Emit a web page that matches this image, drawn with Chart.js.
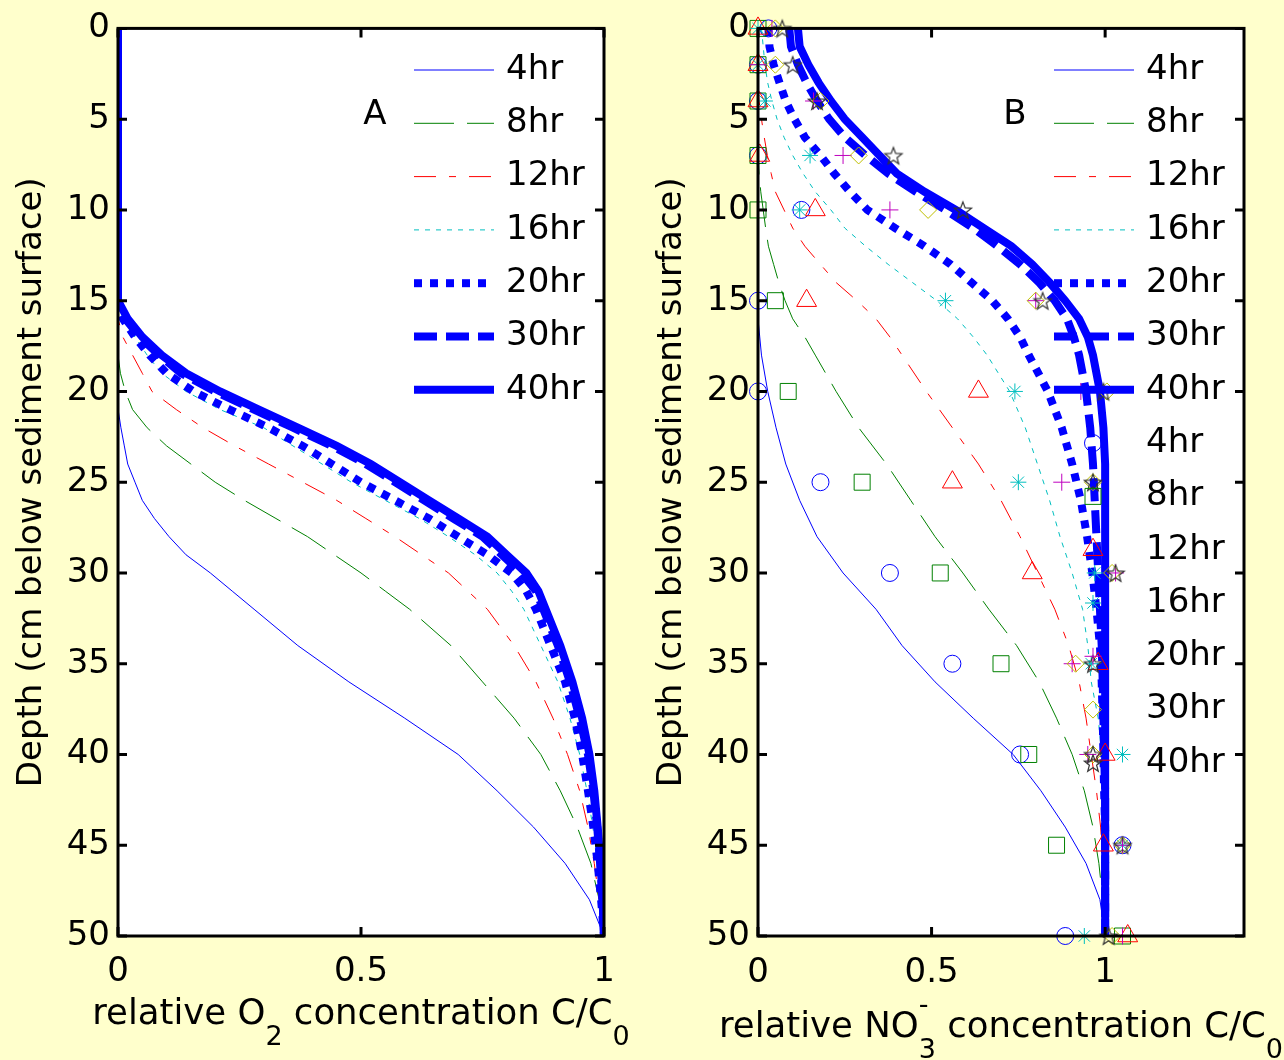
<!DOCTYPE html>
<html lang="en">
<head>
<meta charset="utf-8">
<title>O2 and NO3- depth profiles</title>
<script src="https://cdn.jsdelivr.net/npm/chart.js@4.4.1/dist/chart.umd.min.js"></script>
<style>
  html, body { margin: 0; padding: 0; background: #ffffcc; }
  #panelA, #panelB { position: absolute; top: 0; }
  #panelA { left: 0; }
  #panelB { left: 640px; }
</style>
</head>
<body>
<canvas id="panelA" width="640" height="1060"></canvas>
<canvas id="panelB" width="644" height="1060"></canvas>
<script>
'use strict';

// ---- data ----
const hours = ['4hr', '8hr', '12hr', '16hr', '20hr', '30hr', '40hr'];
const depthTicks = [0, 5, 10, 15, 20, 25, 30, 35, 40, 45, 50];
const concTicks = [0, 0.5, 1];

// A: modelled O2, C/C0 at each depth (cm)
const depthA = [0, 15, 16, 17, 18, 19, 20, 21, 22, 23, 24, 25, 26, 27, 28, 29, 30, 31, 32, 34, 36, 38, 40, 42, 44, 46, 48, 50];
const o2At4hr  = [0, 0, 0, 0, 0, 0, 0, 0.002, 0.006, 0.013, 0.02, 0.035, 0.05, 0.075, 0.105, 0.14, 0.19, 0.235, 0.28, 0.37, 0.475, 0.59, 0.70, 0.78, 0.855, 0.92, 0.97, 1];
const o2At8hr  = [0, 0, 0, 0, 0, 0.005, 0.015, 0.03, 0.06, 0.10, 0.15, 0.20, 0.26, 0.325, 0.39, 0.445, 0.50, 0.55, 0.60, 0.685, 0.75, 0.815, 0.87, 0.91, 0.945, 0.973, 0.99, 1];
const o2At12hr = [0, 0, 0, 0.01, 0.03, 0.05, 0.07, 0.12, 0.175, 0.24, 0.31, 0.38, 0.45, 0.51, 0.57, 0.625, 0.68, 0.72, 0.76, 0.815, 0.86, 0.895, 0.925, 0.95, 0.967, 0.98, 0.99, 1];
const o2At16hr = [0, 0, 0.01, 0.035, 0.06, 0.09, 0.14, 0.21, 0.30, 0.36, 0.42, 0.48, 0.55, 0.62, 0.68, 0.735, 0.78, 0.81, 0.835, 0.87, 0.905, 0.93, 0.95, 0.965, 0.977, 0.987, 0.994, 1];
const o2At20hr = [0, 0, 0.01, 0.035, 0.065, 0.10, 0.155, 0.23, 0.31, 0.38, 0.44, 0.50, 0.57, 0.64, 0.70, 0.76, 0.81, 0.84, 0.86, 0.89, 0.92, 0.94, 0.955, 0.967, 0.978, 0.987, 0.994, 1];
const o2At30hr = [0, 0, 0.015, 0.045, 0.085, 0.13, 0.20, 0.28, 0.36, 0.44, 0.51, 0.57, 0.63, 0.69, 0.75, 0.79, 0.83, 0.86, 0.875, 0.905, 0.93, 0.95, 0.967, 0.978, 0.986, 0.992, 0.997, 1];
const o2At40hr = [0, 0, 0.02, 0.05, 0.09, 0.14, 0.21, 0.29, 0.37, 0.45, 0.52, 0.58, 0.64, 0.70, 0.76, 0.80, 0.84, 0.865, 0.88, 0.91, 0.935, 0.955, 0.97, 0.98, 0.987, 0.993, 0.997, 1];

// B: modelled NO3-, C/C0 at each depth (cm)
const depthB = [0, 1, 2, 3, 4, 5, 6, 7, 8, 9, 10, 11, 12, 13, 14, 15, 16, 17, 18, 20, 22, 24, 26, 28, 30, 32, 34, 36, 38, 40, 42, 44, 46, 48, 50];
const no3At4hr  = [0, 0, 0, 0, 0, 0, 0, 0, 0, 0, 0, 0, 0, 0, 0, 0, 0, 0.005, 0.01, 0.028, 0.052, 0.08, 0.12, 0.17, 0.245, 0.34, 0.415, 0.51, 0.62, 0.735, 0.815, 0.885, 0.945, 0.985, 1];
const no3At8hr  = [0, 0, 0, 0, 0, 0, 0, 0, 0.003, 0.008, 0.015, 0.022, 0.03, 0.045, 0.06, 0.078, 0.1, 0.135, 0.165, 0.225, 0.29, 0.37, 0.44, 0.51, 0.59, 0.665, 0.745, 0.81, 0.86, 0.905, 0.94, 0.965, 0.982, 0.993, 1];
const no3At12hr = [0, 0, 0, 0, 0.003, 0.01, 0.018, 0.027, 0.038, 0.05, 0.075, 0.10, 0.135, 0.18, 0.225, 0.285, 0.34, 0.38, 0.415, 0.485, 0.56, 0.635, 0.70, 0.755, 0.805, 0.855, 0.895, 0.925, 0.945, 0.96, 0.975, 0.987, 0.994, 0.998, 1];
const no3At16hr = [0.01, 0.015, 0.02, 0.028, 0.04, 0.055, 0.075, 0.10, 0.13, 0.165, 0.21, 0.25, 0.31, 0.375, 0.445, 0.515, 0.575, 0.62, 0.66, 0.725, 0.77, 0.805, 0.84, 0.87, 0.905, 0.935, 0.95, 0.96, 0.98, 0.99, 0.995, 1, 1, 1, 1];
const no3At20hr = [0.03, 0.033, 0.045, 0.062, 0.08, 0.105, 0.135, 0.18, 0.22, 0.265, 0.315, 0.395, 0.48, 0.555, 0.615, 0.675, 0.72, 0.755, 0.78, 0.835, 0.875, 0.905, 0.93, 0.948, 0.963, 0.975, 0.985, 0.99, 0.993, 0.995, 0.997, 1, 1, 1, 1];
const no3At30hr = [0.09, 0.095, 0.115, 0.14, 0.17, 0.205, 0.25, 0.31, 0.375, 0.455, 0.54, 0.62, 0.69, 0.755, 0.81, 0.855, 0.89, 0.91, 0.925, 0.945, 0.957, 0.965, 0.97, 0.975, 0.98, 0.985, 0.99, 0.993, 0.995, 0.997, 1, 1, 1, 1, 1];
const no3At40hr = [0.115, 0.12, 0.145, 0.175, 0.21, 0.25, 0.30, 0.35, 0.40, 0.48, 0.57, 0.65, 0.73, 0.79, 0.84, 0.885, 0.925, 0.95, 0.965, 0.985, 0.995, 1, 1, 1, 1, 1, 1, 1, 1, 1, 1, 1, 1, 1, 1];

// B: measured NO3- at the sampling ports
const sampleDepth = [0, 2, 4, 7, 10, 15, 20, 25, 30, 35, 40, 45, 50];
const obsAt4hr  = [0.03, 0, 0, 0, 0.125, 0, 0, 0.18, 0.38, 0.56, 0.755, 1.05, 0.885];
const obsAt8hr  = [0, 0, 0, 0, 0, 0.05, 0.087, 0.30, 0.525, 0.70, 0.78, 0.86, 1.05];
const obsAt12hr = [0, 0, 0, 0.005, 0.165, 0.14, 0.635, 0.56, 0.79, 0.98, 1.0, 0.995, 1.065];
const obsAt16hr = [0, 0, 0.02, 0.15, 0.12, 0.54, 0.74, 0.75, 0.97, 0.96, 1.05, 1.05, 0.94];
const obsAt20hr = [0.04, 0, 0.16, 0.245, 0.38, 0.80, 0.93, 0.875, 1.03, 0.905, 0.95, 1.05, 1.05];
const obsAt30hr = [0.05, 0.05, 0.18, 0.29, 0.49, 0.80, 1.005, 0.965, 1.02, 0.915, 0.965, 1.05, 1.02];
const obsAt40hr = [0.07, 0.10, 0.17, 0.39, 0.59, 0.82, 0.995, 0.965, 1.03, 0.965, 0.965, 1.05, 1.01];

// ---- styles ----
const FONT = "'DejaVu Sans', sans-serif";
const lineColors = ['#0000ff', '#008000', '#ff0000', '#00bfbf', '#0000ff', '#0000ff', '#0000ff'];
const lineWidths = [1, 1, 1, 1, 8, 8, 8];
const lineDashes = [[], [40, 13], [22, 13, 7, 13], [5, 6], [8, 8], [23, 9], []];
const markerColors = ['#0000ff', '#008000', '#ff0000', '#00bfbf', '#bf00bf', '#bfbf00', '#333333'];
const markerStyles = ['circle', 'rect', 'triangle', 'star', 'cross', 'rectRot', makePentagram('#333333', 9)];
const markerRadii = [8.5, 11.3, 11.5, 8, 8.5, 8.5, 9];

// five-pointed outline star, not one of the built-in point styles
function makePentagram(color, r) {
  const c = document.createElement('canvas');
  const s = Math.ceil(r * 2 + 4);
  c.width = s;
  c.height = s;
  const g = c.getContext('2d');
  g.strokeStyle = color;
  g.lineWidth = 1.2;
  g.beginPath();
  for (let k = 0; k < 10; k++) {
    const rad = k % 2 ? r * 0.42 : r;
    const ang = -Math.PI / 2 + k * Math.PI / 5;
    const px = s / 2 + rad * Math.cos(ang);
    const py = s / 2 + 1 + rad * Math.sin(ang);
    if (k) g.lineTo(px, py); else g.moveTo(px, py);
  }
  g.closePath();
  g.stroke();
  return c;
}

function lineSets(depths, series) {
  return series.map((values, i) => ({
    label: hours[i],
    data: depths.map((d, k) => ({ x: values[k], y: d })),
    showLine: true,
    pointRadius: 0,
    pointHoverRadius: 0,
    borderColor: lineColors[i],
    borderWidth: lineWidths[i],
    borderDash: lineDashes[i],
    borderCapStyle: 'butt',
    tension: 0,
    fill: false,
    clip: 0,
    order: -i
  }));
}

function markerSets(depths, series) {
  return series.map((values, i) => ({
    label: hours[i],
    data: depths.map((d, k) => ({ x: values[k], y: d })),
    showLine: false,
    pointStyle: markerStyles[i],
    pointRadius: markerRadii[i],
    pointHoverRadius: markerRadii[i],
    borderColor: markerColors[i],
    pointBorderColor: markerColors[i],
    pointBackgroundColor: 'rgba(0,0,0,0)',
    backgroundColor: 'rgba(0,0,0,0)',
    pointBorderWidth: 1,
    clip: false,
    order: -10 - i
  }));
}

// white plot box, inward ticks, in-axes legend, panel letter, x label with sub/superscripts
const profileDecor = {
  id: 'profileDecor',
  beforeDraw(chart) {
    const { ctx, chartArea: a } = chart;
    ctx.save();
    ctx.fillStyle = '#ffffff';
    ctx.fillRect(a.left, a.top, a.right - a.left, a.bottom - a.top);
    ctx.restore();
  },
  afterDatasetsDraw(chart, args, o) {
    const { ctx, chartArea: a, scales } = chart;
    ctx.save();
    ctx.strokeStyle = '#000';
    ctx.lineWidth = 3;
    ctx.beginPath();
    scales.y.ticks.forEach(t => {
      const py = scales.y.getPixelForValue(t.value);
      ctx.moveTo(a.left, py); ctx.lineTo(a.left + 9, py);
      ctx.moveTo(a.right, py); ctx.lineTo(a.right - 9, py);
    });
    scales.x.ticks.forEach(t => {
      const px = scales.x.getPixelForValue(t.value);
      ctx.moveTo(px, a.bottom); ctx.lineTo(px, a.bottom - 9);
      ctx.moveTo(px, a.top); ctx.lineTo(px, a.top + 9);
    });
    ctx.stroke();
    ctx.strokeRect(a.left, a.top, a.right - a.left, a.bottom - a.top);

    ctx.font = '34px ' + FONT;
    ctx.textBaseline = 'middle';
    ctx.fillStyle = '#000';
    const x0 = a.left + o.legendX;
    chart.data.datasets.forEach((ds, i) => {
      const y = o.legendTop + i * o.legendGap;
      if (ds.showLine) {
        ctx.save();
        ctx.strokeStyle = ds.borderColor;
        ctx.lineWidth = ds.borderWidth;
        ctx.setLineDash(ds.borderDash || []);
        ctx.lineCap = 'butt';
        ctx.beginPath();
        ctx.moveTo(x0, y);
        ctx.lineTo(x0 + 80, y);
        ctx.stroke();
        ctx.restore();
      } else if (Chart.helpers && Chart.helpers.drawPoint) {
        ctx.save();
        ctx.strokeStyle = ds.borderColor;
        ctx.fillStyle = 'rgba(0,0,0,0)';
        ctx.lineWidth = 1;
        Chart.helpers.drawPoint(ctx, { pointStyle: ds.pointStyle, radius: ds.pointRadius, rotation: 0, borderWidth: 1 }, x0 + 39, y);
        ctx.restore();
      }
      ctx.fillText(ds.label, x0 + 92, y);
    });

    ctx.textAlign = 'center';
    ctx.fillText(o.letter, a.left + 257, 115);
    ctx.restore();
  },
  afterDraw(chart, args, o) {
    const { ctx, chartArea: a } = chart;
    const main = '35.5px ' + FONT;
    const small = '27px ' + FONT;
    ctx.save();
    ctx.fillStyle = '#000';
    ctx.textBaseline = 'alphabetic';
    ctx.textAlign = 'left';
    const widths = o.xTitle.map(p => {
      ctx.font = p.sub ? small : main;
      let w = ctx.measureText(p.text).width;
      if (p.sup) w = Math.max(w, ctx.measureText(p.sup).width);
      return w;
    });
    let x = (a.left + a.right) / 2 - widths.reduce((s, w) => s + w, 0) / 2;
    o.xTitle.forEach((p, i) => {
      ctx.font = p.sub ? small : main;
      ctx.fillText(p.text, x, o.titleBaseline + (p.sub ? 21 : 0));
      if (p.sup) ctx.fillText(p.sup, x, o.titleBaseline - 24);
      x += widths[i];
    });
    ctx.restore();
  }
};

function depthAxis() {
  return {
    type: 'linear',
    reverse: true,
    min: 0,
    max: 50,
    afterBuildTicks: s => { s.ticks = depthTicks.map(v => ({ value: v })); },
    afterFit: s => { s.width = 118; },
    grid: { display: false, drawTicks: false },
    border: { display: false },
    ticks: { autoSkip: false, padding: 8, color: '#000', font: { family: FONT, size: 34 } },
    title: {
      display: true,
      text: 'Depth (cm below sediment surface)',
      color: '#000',
      font: { family: FONT, size: 34 },
      padding: { top: 12, bottom: 0 }
    }
  };
}

function concAxis(xMax, pad) {
  return {
    type: 'linear',
    min: 0,
    max: xMax,
    afterBuildTicks: s => { s.ticks = concTicks.map(v => ({ value: v })); },
    afterFit: s => { s.height = 124; },
    grid: { display: false, drawTicks: false },
    border: { display: false },
    ticks: {
      autoSkip: false,
      maxRotation: 0,
      padding: pad,
      color: '#000',
      font: { family: FONT, size: 34 },
      callback: v => String(v)
    },
    title: { display: false }
  };
}

function profileChart(id, datasets, xMax, rightPad, tickPad, decor) {
  return new Chart(document.getElementById(id), {
    type: 'scatter',
    data: { datasets: datasets },
    options: {
      responsive: false,
      devicePixelRatio: 1,
      animation: false,
      events: [],
      layout: { padding: { left: 0, right: rightPad, top: 20, bottom: 0 } },
      scales: { x: concAxis(xMax, tickPad), y: depthAxis() },
      plugins: {
        legend: { display: false },
        tooltip: { enabled: false },
        profileDecor: decor
      }
    },
    plugins: [profileDecor]
  });
}

profileChart('panelA',
  lineSets(depthA, [o2At4hr, o2At8hr, o2At12hr, o2At16hr, o2At20hr, o2At30hr, o2At40hr]),
  1, 36, 16,
  {
    letter: 'A',
    legendX: 296, legendTop: 70, legendGap: 53.3,
    titleBaseline: 1024,
    xTitle: [{ text: 'relative O' }, { text: '2', sub: true }, { text: ' concentration C/C' }, { text: '0', sub: true }]
  });

profileChart('panelB',
  lineSets(depthB, [no3At4hr, no3At8hr, no3At12hr, no3At16hr, no3At20hr, no3At30hr, no3At40hr])
    .concat(markerSets(sampleDepth, [obsAt4hr, obsAt8hr, obsAt12hr, obsAt16hr, obsAt20hr, obsAt30hr, obsAt40hr])),
  1.4, 40, 17,
  {
    letter: 'B',
    legendX: 296, legendTop: 70, legendGap: 53.3,
    titleBaseline: 1037,
    xTitle: [{ text: 'relative NO' }, { text: '3', sub: true, sup: '-' }, { text: ' concentration C/C' }, { text: '0', sub: true }]
  });
</script>
</body>
</html>
